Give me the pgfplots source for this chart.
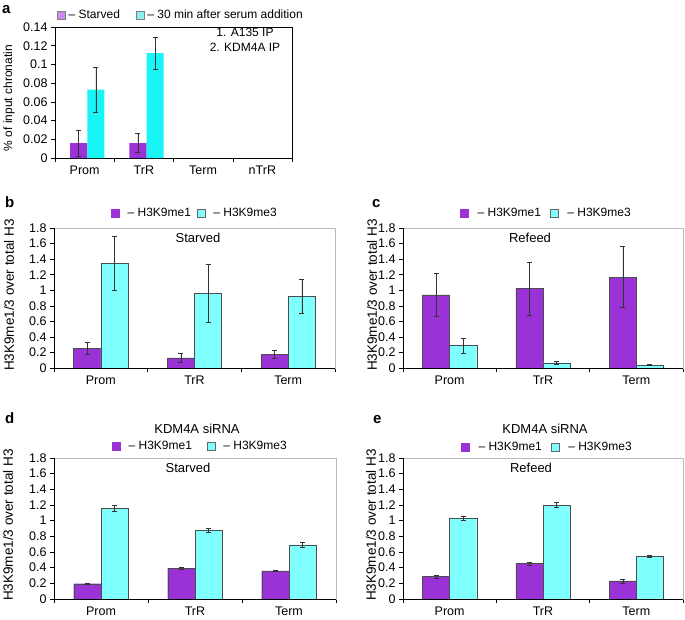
\documentclass[border=0pt]{standalone}
\usepackage{pgfplots}
\pgfplotsset{compat=1.18}
\usepackage{fontspec}
\setmainfont{Liberation Sans}
\definecolor{purp}{RGB}{155,50,215}
\definecolor{cyanA}{RGB}{25,245,245}
\definecolor{cyanB}{RGB}{128,255,255}
\definecolor{purpL}{RGB}{205,140,240}
\definecolor{cyanL}{RGB}{140,240,240}
\newcommand{\tf}{\fontsize{12}{14}\selectfont}
\newcommand{\tk}{\fontsize{12.5}{14}\selectfont}
\newcommand{\tl}{\fontsize{13.5}{15}\selectfont}
\newcommand{\ttl}{\fontsize{13}{15}\selectfont}
\pgfplotsset{
  base/.style={
    scale only axis, ybar, clip=false,
    tick pos=left, tick align=outside,
    major tick length=4pt, minor tick length=4pt,
    major x tick style={draw=none},
    tick style={black, line width=0.5pt},
    ymin=0,
    scaled y ticks=false,
    yticklabel style={/pgf/number format/assume math mode=true, /pgf/number format/fixed, /pgf/number format/precision=2, font=\tk},
    xticklabel style={font=\tk},
    legend columns=2,
    legend image code/.code={\draw[##1] (0pt,-4pt) rectangle (8pt,4pt);},
    legend style={draw=none, fill=none, inner sep=0pt, anchor=west, cells={anchor=west}, nodes={inner sep=0pt, font=\tf}},
  },
  eb/.style={error bars/.cd, y dir=both, y explicit,
    error bar style={black!80, line width=0.5pt},
    error mark options={rotate=90, mark size=2.5pt, black!80, line width=0.5pt}},
  bcat/.style={xmin=-0.5, xmax=2.5, xtick={0,1,2}, xticklabels={Prom,TrR,Term},
    minor xtick={-0.5,0.5,1.5,2.5}, ymax=1.8, ytick={0,0.2,0.4,0.6,0.8,1,1.2,1.4,1.6,1.8},
    bar width=0.29, axis line style={gray!55}},
  me1/.style={fill=purp, draw=black!70, line width=0.4pt, bar shift=-0.145, forget plot, eb},
  me3/.style={fill=cyanB, draw=black!70, line width=0.4pt, bar shift=0.145, forget plot, eb},
}
\begin{document}
\begin{tikzpicture}
\useasboundingbox (0pt,0pt) rectangle (685pt,-619pt);
% panel a
\begin{axis}[base, at={(55pt,-158pt)}, anchor=south west, width=237pt, height=131pt,
  xmin=-0.5, xmax=3.5, ymax=0.14, xtick={0,1,2,3}, xticklabels={Prom,TrR,Term,nTrR},
  minor xtick={-0.5,0.5,1.5,2.5,3.5},
  ytick={0,0.02,0.04,0.06,0.08,0.1,0.12,0.14}, bar width=0.29, axis line style={black},
  legend style={at={(rel axis cs:0.0084,1.092)}, /tikz/every even column/.append style={column sep=16pt}}]
\addlegendimage{fill=purpL, draw=gray}
\addlegendentry{\hspace{3pt}-- Starved}
\addlegendimage{fill=cyanL, draw=gray}
\addlegendentry{\hspace{3pt}-- 30 min after serum addition}
\addplot[fill=purp, draw=none, bar shift=-0.1, forget plot, eb] coordinates {(0,0.016) +- (0,0.014) (1,0.016) +- (0,0.010)};
\addplot[fill=cyanA, draw=none, bar shift=0.19, forget plot, eb] coordinates {(0,0.073) +- (0,0.0245) (1,0.112) +- (0,0.017)};
\end{axis}
% panel b
\begin{axis}[base, bcat, at={(54pt,-368pt)}, anchor=south west, width=281pt, height=140pt,
  legend style={at={(rel axis cs:0.203,1.107)}, /tikz/every even column/.append style={column sep=6pt}}]
\addlegendimage{fill=purp, draw=purp}
\addlegendentry{\hspace{8pt}-- H3K9me1}
\addlegendimage{fill=cyanB, draw=black!60}
\addlegendentry{\hspace{8pt}-- H3K9me3}
\addplot[me1] coordinates {(0,0.253) +- (0,0.08) (1,0.13) +- (0,0.055) (2,0.176) +- (0,0.055)};
\addplot[me3] coordinates {(0,1.345) +- (0,0.35) (1,0.96) +- (0,0.375) (2,0.925) +- (0,0.215)};
\draw[black, line width=0.5pt] (rel axis cs:0,1) -- (rel axis cs:0,0) -- (rel axis cs:1,0);
\end{axis}
% panel c
\begin{axis}[base, bcat, at={(403pt,-368pt)}, anchor=south west, width=280pt, height=140pt,
  legend style={at={(rel axis cs:0.2036,1.107)}, /tikz/every even column/.append style={column sep=9pt}}]
\addlegendimage{fill=purp, draw=purp}
\addlegendentry{\hspace{9pt}-- H3K9me1}
\addlegendimage{fill=cyanB, draw=black!60}
\addlegendentry{\hspace{9pt}-- H3K9me3}
\addplot[me1] coordinates {(0,0.94) +- (0,0.28) (1,1.02) +- (0,0.34) (2,1.17) +- (0,0.395)};
\addplot[me3] coordinates {(0,0.287) +- (0,0.095) (1,0.068) +- (0,0.02) (2,0.04) +- (0,0.01)};
\draw[black, line width=0.5pt] (rel axis cs:0,1) -- (rel axis cs:0,0) -- (rel axis cs:1,0);
\end{axis}
% panel d
\begin{axis}[base, bcat, at={(54pt,-599pt)}, anchor=south west, width=282pt, height=141pt,
  legend style={at={(rel axis cs:0.2057,1.085)}, /tikz/every even column/.append style={column sep=15pt}}]
\addlegendimage{fill=purp, draw=purp}
\addlegendentry{\hspace{8pt}-- H3K9me1}
\addlegendimage{fill=cyanB, draw=black!60}
\addlegendentry{\hspace{8pt}-- H3K9me3}
\addplot[me1] coordinates {(0,0.195) +- (0,0.005) (1,0.395) +- (0,0.01) (2,0.36) +- (0,0.006)};
\addplot[me3] coordinates {(0,1.16) +- (0,0.04) (1,0.88) +- (0,0.025) (2,0.69) +- (0,0.03)};
\draw[black, line width=0.5pt] (rel axis cs:0,1) -- (rel axis cs:0,0) -- (rel axis cs:1,0);
\end{axis}
% panel e
\begin{axis}[base, bcat, at={(403pt,-599pt)}, anchor=south west, width=280pt, height=141pt,
  legend style={at={(rel axis cs:0.207,1.078)}, /tikz/every even column/.append style={column sep=9pt}}]
\addlegendimage{fill=purp, draw=purp}
\addlegendentry{\hspace{9pt}-- H3K9me1}
\addlegendimage{fill=cyanB, draw=black!60}
\addlegendentry{\hspace{9pt}-- H3K9me3}
\addplot[me1] coordinates {(0,0.285) +- (0,0.018) (1,0.455) +- (0,0.018) (2,0.23) +- (0,0.025)};
\addplot[me3] coordinates {(0,1.03) +- (0,0.03) (1,1.2) +- (0,0.03) (2,0.545) +- (0,0.015)};
\draw[black, line width=0.5pt] (rel axis cs:0,1) -- (rel axis cs:0,0) -- (rel axis cs:1,0);
\end{axis}
% texts
\node[rotate=90, font=\tf] at (9pt,-98pt) {\% of input chronatin};
\begin{scope}[every node/.style={font=\tl}]
\node[rotate=90] at (9pt,-295pt) {H3K9me1/3 over total H3};
\node[rotate=90] at (372pt,-295pt) {H3K9me1/3 over total H3};
\node[rotate=90] at (8pt,-525pt) {H3K9me1/3 over total H3};
\node[rotate=90] at (371pt,-525pt) {H3K9me1/3 over total H3};
\end{scope}
\node[align=center, font=\fontsize{12}{15}\selectfont] at (245pt,-39.5pt) {1. A135 IP\\2. KDM4A IP};
\begin{scope}[every node/.style={font=\ttl}]
\node at (198pt,-238pt) {Starved};
\node at (530pt,-238pt) {Refeed};
\node at (188pt,-468pt) {Starved};
\node at (531pt,-468pt) {Refeed};
\node at (197pt,-429pt) {KDM4A siRNA};
\node at (545pt,-429pt) {KDM4A siRNA};
\end{scope}
\begin{scope}[every node/.style={font=\fontsize{15}{17}\selectfont\bfseries, anchor=base west, inner sep=0pt}]
\node at (2pt,-13pt) {a};
\node at (5pt,-207pt) {b};
\node at (372pt,-207pt) {c};
\node at (5pt,-423pt) {d};
\node at (373pt,-423pt) {e};
\end{scope}
\end{tikzpicture}
\end{document}
